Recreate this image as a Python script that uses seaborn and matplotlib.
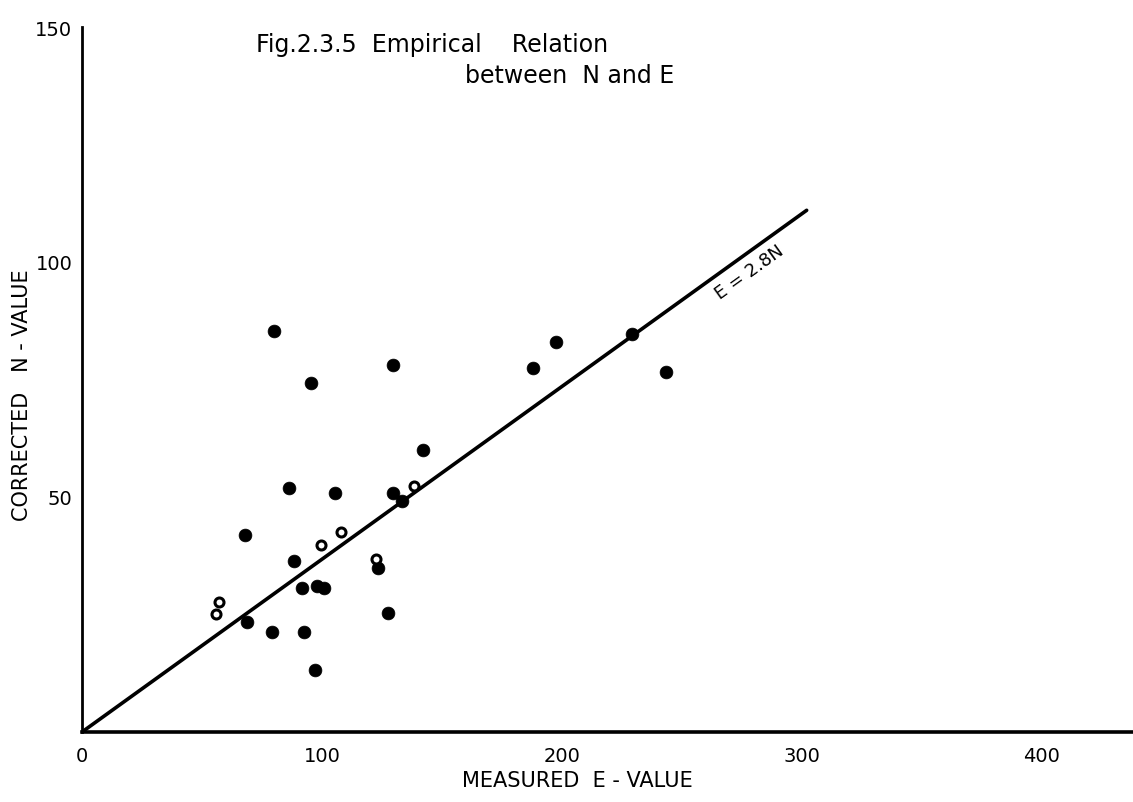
import matplotlib
matplotlib.use("Agg")
import matplotlib.pyplot as plt
import seaborn as sns
import pandas as pd

# ---- data ----
E_filled = [79.9, 129.7, 95.3, 142.1, 86.1, 105.4, 129.6, 133.2, 67.9, 88.3,
            123.3, 91.7, 97.9, 101.0, 68.8, 79.0, 92.4, 127.5, 97.1,
            187.8, 197.5, 229.2, 243.5]
N_filled = [85.4, 78.1, 74.2, 59.9, 51.9, 50.9, 50.8, 49.1, 41.9, 36.4,
            35.0, 30.6, 31.1, 30.6, 23.3, 21.2, 21.2, 25.3, 13.2,
            77.4, 83.0, 84.7, 76.7]
E_open = [138.5, 107.8, 99.7, 122.4, 57.0, 55.8]
N_open = [52.3, 42.5, 39.7, 36.8, 27.6, 25.1]

line_E = [0, 302]
line_N = [0, 111]

x_ticks = [0, 100, 200, 300, 400]
y_ticks = [50, 100, 150]

title_1 = "Fig.2.3.5  Empirical    Relation"
title_2 = "between  N and E"
x_label = "MEASURED  E - VALUE"
y_label = "CORRECTED   N - VALUE"
eq_label = "E = 2.8N"

# ---- plot ----
sns.set_style("white")
plt.rcParams['font.family'] = ['DejaVu Sans']
plt.rcParams['text.color'] = 'black'

W, H = 1133, 803
fig = plt.figure(figsize=(W / 100, H / 100), dpi=100)
ax = fig.add_axes([82 / W, 70 / H, (W - 82) / W, 705 / H])
ax.set_xlim(0, 438)
ax.set_ylim(0, 150)

sns.lineplot(x=line_E, y=line_N, ax=ax, color="black", linewidth=2.6)
sns.scatterplot(x=E_filled, y=N_filled, ax=ax, s=85, color="black",
                edgecolor="black", linewidth=0.5, zorder=3)
sns.scatterplot(x=E_open, y=N_open, ax=ax, s=42, color="white",
                edgecolor="black", linewidth=2.2, zorder=4)

for side in ("top", "right"):
    ax.spines[side].set_visible(False)
ax.spines["bottom"].set_linewidth(2.6)
ax.spines["left"].set_linewidth(2.0)
ax.spines["bottom"].set_color("black")
ax.spines["left"].set_color("black")

ax.set_xticks(x_ticks)
ax.set_xticklabels([str(v) for v in x_ticks])
ax.set_yticks(y_ticks)
ax.set_yticklabels([str(v) for v in y_ticks])
ax.tick_params(axis="x", direction="in", length=6, width=1.5, pad=10,
               labelsize=14, colors="black")
ax.tick_params(axis="y", direction="out", length=5, width=1.5, pad=2,
               labelsize=14, colors="black")
ax.set_xlabel("")
ax.set_ylabel("")
ax.grid(False)

ax.text(278, 97.9, eq_label, rotation=35.7, rotation_mode="anchor",
        ha="center", va="center", fontsize=13, color="black")

fig.text(256 / W, 1 - 45 / H, title_1, ha="left", va="center", fontsize=17,
         color="black")
fig.text(465 / W, 1 - 76 / H, title_2, ha="left", va="center", fontsize=17,
         color="black")
fig.text(577 / W, 1 - 781 / H, x_label, ha="center", va="center", fontsize=15,
         color="black")
fig.text(22 / W, 1 - 395 / H, y_label, ha="center", va="center",
         rotation=90, fontsize=15, color="black")

fig.savefig("out.png", dpi=100, facecolor="white")
